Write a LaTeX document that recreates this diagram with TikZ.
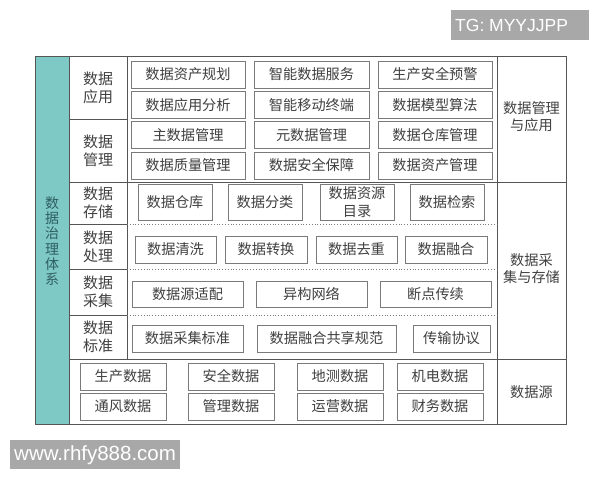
\documentclass[tikz,border=0pt]{standalone}
\usepackage{fontspec}
\setmainfont{Liberation Sans}
\newfontfamily\cjk{Noto Sans CJK SC}
\definecolor{tealbar}{HTML}{7EC8C6}
\definecolor{tealtext}{HTML}{2F5F60}
\definecolor{framegray}{HTML}{555555}
\definecolor{boxgray}{HTML}{7A7A7A}
\definecolor{txtgray}{HTML}{404040}
\definecolor{wmgray}{HTML}{A8A8A8}
\tikzset{
	bx/.style={draw=boxgray, line width=0.8pt, fill=white, inner sep=0pt, minimum height=27pt, text=txtgray, align=center, font=\cjk\fontsize{14.2}{17.5}\selectfont},
	cat/.style={text=txtgray, align=center, font=\cjk\fontsize{15}{18.5}\selectfont},
	side/.style={text=txtgray, align=center, font=\cjk\fontsize{14.2}{17}\selectfont},
	frm/.style={draw=framegray, line width=0.9pt},
	dots/.style={draw=boxgray, line width=0.8pt, dotted},
	wm/.style={fill=wmgray, text=white, inner sep=0pt, anchor=west},
}

\begin{document}
\begin{tikzpicture}[x=1pt,y=-1pt]
	\useasboundingbox (0,0) rectangle (600,480);

	\fill [tealbar] (35,56) rectangle (69,424);
	\draw [frm] (35,56) rectangle (566,424);

	\draw [frm] (69,56) -- (69,424);
	\draw [frm] (127,56) -- (127,359);
	\draw [frm] (497,56) -- (497,424);
	\draw [frm] (69,119) -- (127,119);
	\draw [frm] (69,182) -- (566,182);
	\draw [frm] (69,224) -- (127,224);
	\draw [frm] (69,269) -- (127,269);
	\draw [frm] (69,315) -- (127,315);
	\draw [frm] (69,359) -- (566,359);

	\draw [dots] (127,224) -- (497,224);
	\draw [dots] (127,269) -- (497,269);
	\draw [dots] (127,315) -- (497,315);

	\node [text=tealtext, align=center, font=\cjk\fontsize{14}{15.2}\selectfont] (sys) at (52,241) {数\\据\\治\\理\\体\\系};

	\node [cat] (catapp) at (98,88) {数据\\应用};
	\node [cat] (catmgt) at (98,151) {数据\\管理};
	\node [cat] (catsto) at (98,203) {数据\\存储};
	\node [cat] (catpro) at (98,247) {数据\\处理};
	\node [cat] (catcol) at (98,292) {数据\\采集};
	\node [cat] (catstd) at (98,337) {数据\\标准};

	\node [side] (sideapp) at (531.5,117) {数据管理\\与应用};
	\node [side] (sidesto) at (531.5,269) {数据采\\集与存储};
	\node [side] (sidesrc) at (531.5,392) {数据源};

	\node [bx, minimum width=114pt] (app1) at (188,74.5) {数据资产规划};
	\node [bx, minimum width=115pt] (app2) at (311.5,74.5) {智能数据服务};
	\node [bx, minimum width=114pt] (app3) at (435,74.5) {生产安全预警};
	\node [bx, minimum width=114pt] (app4) at (188,105) {数据应用分析};
	\node [bx, minimum width=115pt] (app5) at (311.5,105) {智能移动终端};
	\node [bx, minimum width=114pt] (app6) at (435,105) {数据模型算法};
	\node [bx, minimum width=114pt] (mgt1) at (188,135) {主数据管理};
	\node [bx, minimum width=115pt] (mgt2) at (311.5,135) {元数据管理};
	\node [bx, minimum width=114pt] (mgt3) at (435,135) {数据仓库管理};
	\node [bx, minimum width=114pt] (mgt4) at (188,165.5) {数据质量管理};
	\node [bx, minimum width=115pt] (mgt5) at (311.5,165.5) {数据安全保障};
	\node [bx, minimum width=114pt] (mgt6) at (435,165.5) {数据资产管理};

	\node [bx, minimum width=74pt, minimum height=36pt] (sto1) at (175,202) {数据仓库};
	\node [bx, minimum width=74pt, minimum height=36pt] (sto2) at (265,202) {数据分类};
	\node [bx, minimum width=74pt, minimum height=36pt] (sto3) at (357,202) {数据资源\\目录};
	\node [bx, minimum width=74pt, minimum height=36pt] (sto4) at (447,202) {数据检索};

	\node [bx, minimum width=81pt] (pro1) at (175.5,249.5) {数据清洗};
	\node [bx, minimum width=82pt] (pro2) at (266,249.5) {数据转换};
	\node [bx, minimum width=81pt] (pro3) at (356.5,249.5) {数据去重};
	\node [bx, minimum width=82pt] (pro4) at (446,249.5) {数据融合};

	\node [bx, minimum width=111pt, minimum height=26pt] (col1) at (187.5,294.5) {数据源适配};
	\node [bx, minimum width=111pt, minimum height=26pt] (col2) at (311.5,294.5) {异构网络};
	\node [bx, minimum width=111pt, minimum height=26pt] (col3) at (435.5,294.5) {断点传续};

	\node [bx, minimum width=111pt] (std1) at (187.5,338.5) {数据采集标准};
	\node [bx, minimum width=139pt] (std2) at (326.5,338.5) {数据融合共享规范};
	\node [bx, minimum width=77pt] (std3) at (451.5,338.5) {传输协议};

	\node [bx, minimum width=86pt] (src1) at (123,376.5) {生产数据};
	\node [bx, minimum width=86pt] (src2) at (231,376.5) {安全数据};
	\node [bx, minimum width=86pt] (src3) at (340,376.5) {地测数据};
	\node [bx, minimum width=86pt] (src4) at (440,376.5) {机电数据};
	\node [bx, minimum width=86pt] (src5) at (123,406.5) {通风数据};
	\node [bx, minimum width=86pt] (src6) at (231,406.5) {管理数据};
	\node [bx, minimum width=86pt] (src7) at (340,406.5) {运营数据};
	\node [bx, minimum width=86pt] (src8) at (440,406.5) {财务数据};

	\fill [wmgray] (451,10) rectangle (589,40);
	\node [wm, font=\fontsize{17.5}{20}\selectfont] (tg) at (455,25.5) {TG: MYYJJPP};
	\fill [wmgray] (10,440) rectangle (180,469);
	\node [wm, font=\fontsize{20.5}{23}\selectfont] (www) at (14,455) {www.rhfy888.com};
\end{tikzpicture}
\end{document}
